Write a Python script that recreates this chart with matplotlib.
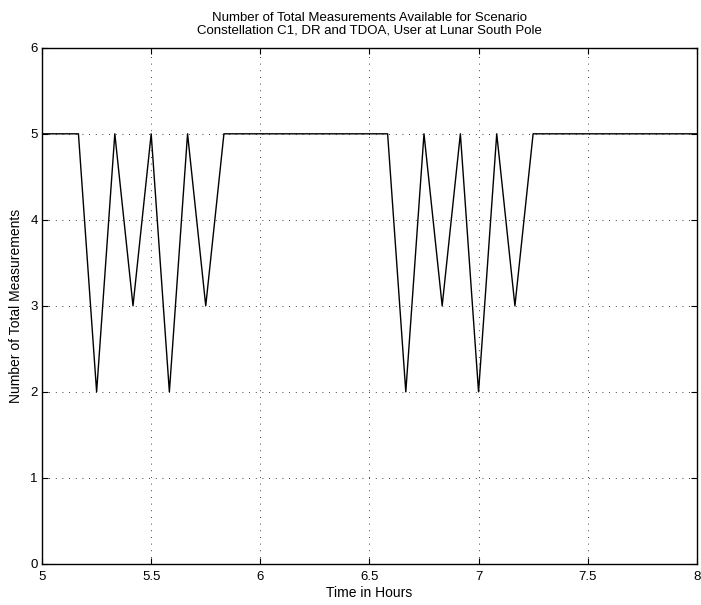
import matplotlib.pyplot as plt

plt.rcParams['font.family'] = ['Liberation Sans', 'DejaVu Sans']

# time stamps in minutes after 5:00 (5 minute steps at the dips)
minutes = [0, 10, 15, 20, 25, 30, 35, 40, 45, 50,
           95, 100, 105, 110, 115, 120, 125, 130, 135, 180]
n_meas = [5, 5, 2, 5, 3, 5, 2, 5, 3, 5,
          5, 2, 5, 3, 5, 2, 5, 3, 5, 5]
hours = [5 + m / 60 for m in minutes]

x_ticks = [5, 5.5, 6, 6.5, 7, 7.5, 8]
x_tick_labels = ['5', '5.5', '6', '6.5', '7', '7.5', '8']
y_ticks = [0, 1, 2, 3, 4, 5, 6]

fig = plt.figure(figsize=(7.01, 6.05), dpi=100)
ax = fig.add_axes([0.060, 0.068, 0.934, 0.853])

ax.plot(hours, n_meas, color='black', linewidth=1)

ax.set_xlim(5, 8)
ax.set_ylim(0, 6)
ax.set_xticks(x_ticks)
ax.set_xticklabels(x_tick_labels)
ax.set_yticks(y_ticks)
ax.grid(True, color='black', linestyle=(0, (1, 7)), linewidth=0.6)
ax.tick_params(direction='in', length=4, top=True, right=True, labelsize=9.5)
ax.tick_params(axis='x', pad=5)
ax.tick_params(axis='y', pad=3)
for s in ax.spines.values():
    s.set_linewidth(1)

ax.set_xlabel('Time in Hours', fontsize=10, labelpad=2)
ax.set_ylabel('Number of Total Measurements', fontsize=10, labelpad=5)
ax.set_title('Number of Total Measurements Available for Scenario\n'
             'Constellation C1, DR and TDOA, User at Lunar South Pole',
             fontsize=9.5, pad=10, linespacing=1.15)

fig.savefig('out.png', dpi=100)
